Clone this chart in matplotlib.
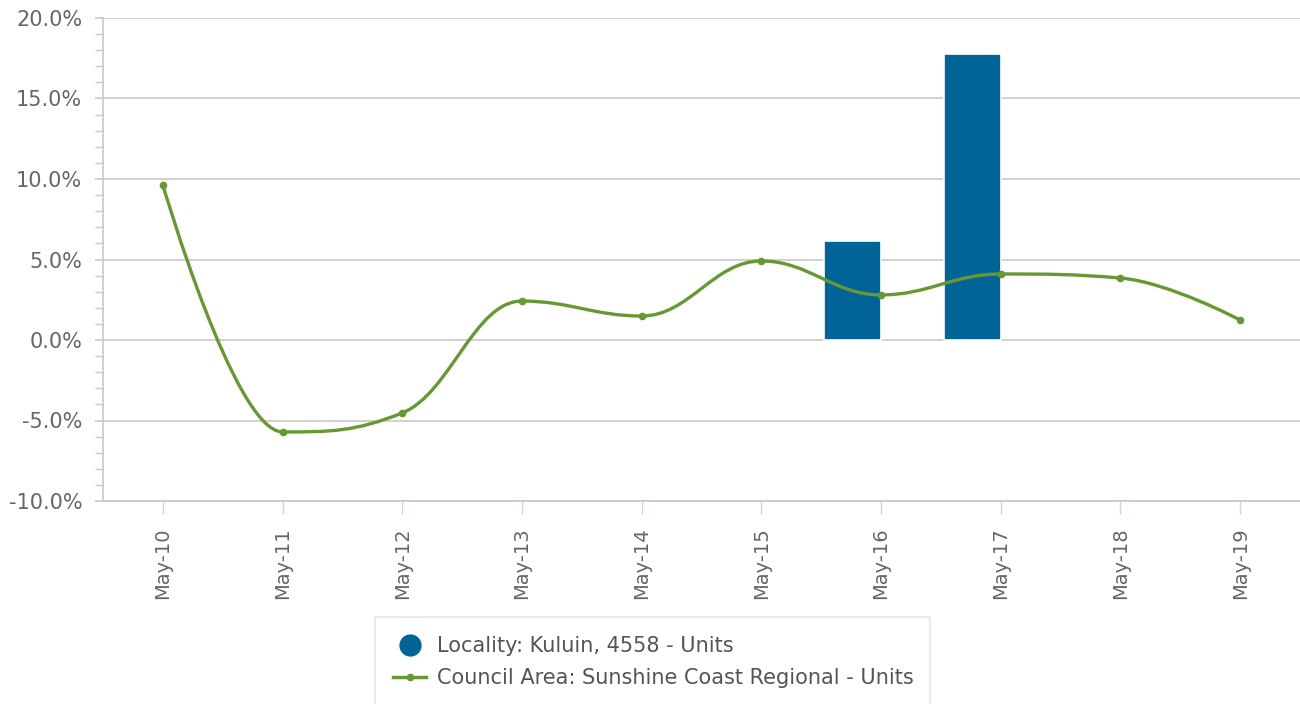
import matplotlib.pyplot as plt
import numpy as np
from matplotlib.path import Path
from matplotlib.patches import PathPatch, Rectangle
from matplotlib.lines import Line2D
from matplotlib.ticker import FuncFormatter, MultipleLocator

categories = ['May-10', 'May-11', 'May-12', 'May-13', 'May-14',
              'May-15', 'May-16', 'May-17', 'May-18', 'May-19']
locality = [None, None, None, None, None, None, 6.15, 17.76, None, None]
council = [9.63, -5.71, -4.53, 2.42, 1.49, 4.91, 2.80, 4.10, 3.85, 1.24]

bar_color = '#006496'
line_color = '#669933'
text_color = '#666666'


def spline_path(xs, ys, smoothing=1.5):
    # Highcharts-style spline built from cubic Bezier segments
    denom = smoothing + 1
    n = len(xs)
    right = [None] * n
    verts = [(xs[0], ys[0])]
    codes = [Path.MOVETO]
    for i in range(1, n):
        x, y = xs[i], ys[i]
        lx, ly = xs[i - 1], ys[i - 1]
        left_c = (x, y)
        if i < n - 1:
            nx, ny = xs[i + 1], ys[i + 1]
            lcx = (smoothing * x + lx) / denom
            lcy = (smoothing * y + ly) / denom
            rcx = (smoothing * x + nx) / denom
            rcy = (smoothing * y + ny) / denom
            corr = 0
            if rcx != lcx:
                corr = (rcy - lcy) * (rcx - x) / (rcx - lcx) + y - rcy
            lcy += corr
            rcy += corr
            if lcy > ly and lcy > y:
                lcy = max(ly, y)
                rcy = 2 * y - lcy
            elif lcy < ly and lcy < y:
                lcy = min(ly, y)
                rcy = 2 * y - lcy
            if rcy > ny and rcy > y:
                rcy = max(ny, y)
                lcy = 2 * y - rcy
            elif rcy < ny and rcy < y:
                rcy = min(ny, y)
                lcy = 2 * y - rcy
            right[i] = (rcx, rcy)
            left_c = (lcx, lcy)
        prev_r = right[i - 1] if right[i - 1] is not None else (lx, ly)
        verts += [prev_r, left_c, (x, y)]
        codes += [Path.CURVE4] * 3
    return Path(verts, codes)


fig = plt.figure(figsize=(13, 7.04), dpi=100)
ax = fig.add_axes([103 / 1300, 203 / 704, 1197 / 1300, 483 / 704])

x = np.arange(len(categories))
bw = 0.476
bx = [i - bw / 2 for i, v in enumerate(locality) if v is not None]
bh = [v for v in locality if v is not None]
ax.bar(bx, bh, width=bw, color=bar_color, edgecolor='white',
       linewidth=1.2, zorder=2)

ax.add_patch(PathPatch(spline_path(list(x), council), facecolor='none',
                       edgecolor=line_color, linewidth=2.4, zorder=3,
                       capstyle='round', joinstyle='round'))
ax.plot(x, council, 'o', color=line_color, markersize=4.5, zorder=4)

ax.set_xlim(-0.5, len(categories) - 0.5)
ax.set_ylim(-10, 20)
ax.yaxis.set_major_locator(MultipleLocator(5))
ax.yaxis.set_minor_locator(MultipleLocator(1))
ax.yaxis.set_major_formatter(FuncFormatter(lambda v, p: f'{v:.1f}%'))
ax.grid(axis='y', color='#c8c8c8', linewidth=1.2, zorder=0)
ax.set_axisbelow(True)

ax.set_xticks(x)
ax.set_xticklabels(categories, rotation=90, fontsize=14, color=text_color)
ax.tick_params(axis='x', length=9, width=1, color='#ccd6eb', pad=10)
ax.tick_params(axis='y', which='major', length=6, width=1.2,
               color='#c8c8c8', labelsize=15, labelcolor=text_color, pad=9)
ax.tick_params(axis='y', which='minor', length=6, width=1, color='#c8c8c8')

for side in ['top', 'right']:
    ax.spines[side].set_visible(False)
ax.spines['left'].set_color('#c8c8c8')
ax.spines['left'].set_linewidth(1.2)
ax.spines['bottom'].set_color('#c8c8c8')
ax.spines['bottom'].set_linewidth(1.2)

# legend box runs off the bottom edge like in the original
fig.patches.append(Rectangle((375 / 1300, -0.02), 555 / 1300, 1 - 617 / 704 + 0.02,
                             transform=fig.transFigure, facecolor='white',
                             edgecolor='#e6e6e6', linewidth=1.2, zorder=0))

handles = [
    Line2D([], [], marker='o', linestyle='none', color=bar_color,
           markersize=15),
    Line2D([], [], marker='o', color=line_color, linewidth=2.5,
           markersize=4.5),
]
labels = ['Locality: Kuluin, 4558 - Units',
          'Council Area: Sunshine Coast Regional - Units']
leg = fig.legend(handles, labels, loc='upper left',
                 bbox_to_anchor=(393 / 1300, 1 - 636 / 704),
                 frameon=False, fontsize=15,
                 labelcolor='#555555', handlelength=1.6, handletextpad=0.5,
                 borderpad=0, labelspacing=0.6, borderaxespad=0)

fig.savefig('out.png', dpi=100)
